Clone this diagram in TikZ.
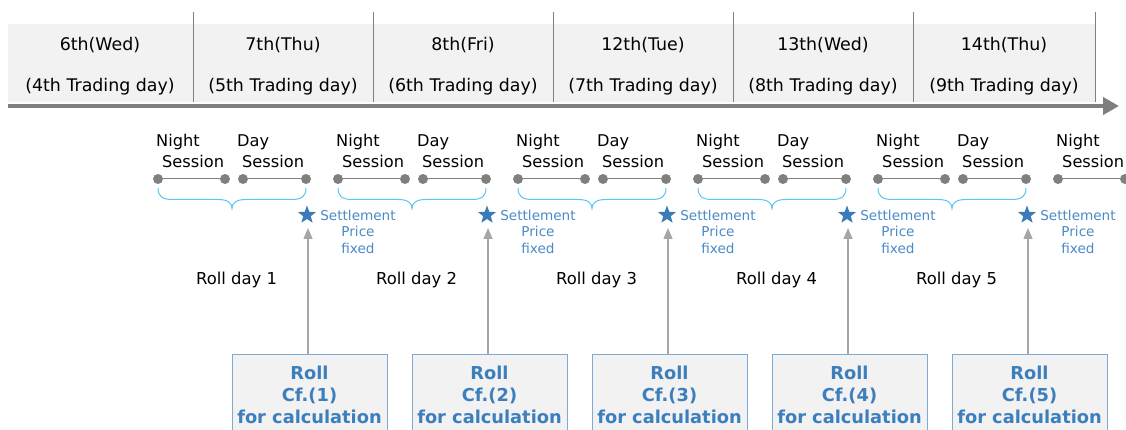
\documentclass[tikz,border=0pt]{standalone}
\usepackage{fontspec}
\setmainfont{DejaVu Sans}
\usetikzlibrary{shapes.geometric,arrows.meta}
\definecolor{hdrfill}{HTML}{F2F2F2}
\definecolor{linegray}{HTML}{7F7F7F}
\definecolor{dotgray}{HTML}{808080}
\definecolor{arrgray}{HTML}{A6A6A6}
\definecolor{bracecyan}{HTML}{5BC5F2}
\definecolor{setblue}{HTML}{4A8AC6}
\definecolor{starblue}{HTML}{3B7BBA}
\definecolor{boxblue}{HTML}{7FAAD6}
\definecolor{rolltext}{HTML}{3D7EBD}
\tikzset{
  hdr/.style={inner sep=0pt, font=\fontsize{17.4}{20}\selectfont, text=black},
  sess/.style={inner sep=0pt, font=\fontsize{16.2}{19}\selectfont, text=black},
  sdot/.style={circle, fill=dotgray, inner sep=0pt, minimum size=10pt},
  sline/.style={draw=dotgray, line width=1pt},
  bracestyle/.style={draw=bracecyan, line width=1pt},
  settle/.style={inner sep=0pt, align=center, font=\fontsize{13.6}{16.5}\selectfont, text=setblue},
  starmark/.style={star, star points=5, star point ratio=2.4, fill=starblue, minimum size=19pt, inner sep=0pt},
  rollday/.style={inner sep=0pt, font=\fontsize{16.4}{19}\selectfont, text=black},
  rollbox/.style={draw=boxblue, fill=hdrfill, line width=1pt, minimum width=155pt, inner xsep=2pt, inner ysep=11.5pt, align=center, font=\bfseries\fontsize{17.8}{22}\selectfont, text=rolltext},
  uparr/.style={draw=arrgray, line width=1.5pt, -{Triangle[length=11pt,width=9pt]}},
  vline/.style={draw=linegray, line width=0.8pt},
  timeline/.style={draw=linegray, line width=4pt, -{Triangle[length=16pt,width=17pt]}}
}
\begin{document}
\begin{tikzpicture}[x=1pt,y=-1pt]
\useasboundingbox (0,0) rectangle (1126,430);
\clip (0,0) rectangle (1126,430);
% header band
\fill[hdrfill] (8,24) rectangle (1095,102);
\foreach \x in {193,373,553,733,913,1095} \draw[vline] (\x,12) -- (\x,102);
\draw[timeline] (8,106) -- (1119,106);
% header texts
\foreach \c/\dd/\tr [count=\i] in {100/6th(Wed)/4th, 283/7th(Thu)/5th, 463/8th(Fri)/6th, 643/12th(Tue)/7th, 823/13th(Wed)/8th, 1004/14th(Thu)/9th} {
  \node[hdr, anchor=base] (d\i) at (\c,51) {\dd};
  \node[hdr, anchor=base] (t\i) at (\c,92) {(\tr\ Trading day)};
}
% sessions
\foreach \g in {0,...,5} {
  \pgfmathsetmacro\o{180*\g}
  \node[sess, anchor=base west] (nl\g) at ({156+\o},147) {Night};
  \node[sess, anchor=base west] (ns\g) at ({162+\o},168) {Session};
  \node[sdot] (na\g) at ({158+\o},179) {};
  \node[sdot] (nb\g) at ({225+\o},179) {};
  \draw[sline] (na\g) -- (nb\g);
}
\foreach \g in {0,...,4} {
  \pgfmathsetmacro\o{180*\g}
  \node[sess, anchor=base west] (dl\g) at ({237+\o},147) {Day};
  \node[sess, anchor=base west] (ds\g) at ({242+\o},168) {Session};
  \node[sdot] (da\g) at ({243+\o},179) {};
  \node[sdot] (db\g) at ({306+\o},179) {};
  \draw[sline] (da\g) -- (db\g);
  % brace
  \pgfmathsetmacro\xl{158+\o}
  \pgfmathsetmacro\xr{306+\o}
  \pgfmathsetmacro\xm{232+\o}
  \draw[bracestyle] (\xl,188) .. controls (\xl,196) and ({\xl+4},199.5) .. ({\xl+14},199.5)
     -- ({\xm-14},199.5) .. controls ({\xm-4},199.5) and (\xm,203) .. (\xm,208.5)
     .. controls (\xm,203) and ({\xm+4},199.5) .. ({\xm+14},199.5)
     -- ({\xr-14},199.5) .. controls ({\xr-4},199.5) and (\xr,196) .. (\xr,188);
}
% settlement, roll days, boxes
\foreach \g [evaluate=\g as \k using int(\g+1)] in {0,...,4} {
  \pgfmathsetmacro\o{180*\g}
  \node[starmark] (s\k) at ({307+\o},215) {};
  \node[settle, anchor=north] (p\k) at ({358+\o},209.7) {Settlement\\Price\\fixed};
  \node[rollday, anchor=base west] (r\k) at ({196+\o},284) {Roll day \k};
  \node[rollbox, anchor=north] (b\k) at ({309.5+\o},354) {Roll\\Cf.(\k)\\for calculation};
  \coordinate (a\k) at ({308+\o},228);
  \draw[uparr] (b\k.north -| a\k) -- (a\k);
}
\end{tikzpicture}
\end{document}
